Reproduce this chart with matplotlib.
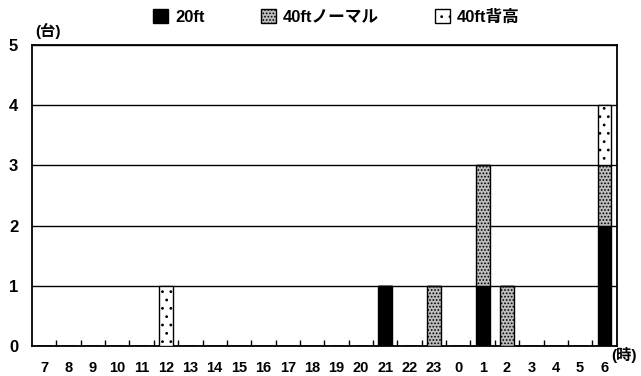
import numpy as np
import matplotlib
matplotlib.use("Agg")
import matplotlib.pyplot as plt
from matplotlib.patches import Patch

plt.rcParams['font.family'] = ['Liberation Sans', 'Noto Sans CJK JP', 'DejaVu Sans']
plt.rcParams['hatch.linewidth'] = 0.8

# hours from 7 to 6 next morning
hours = ['7', '8', '9', '10', '11', '12', '13', '14', '15', '16', '17', '18', '19', '20',
         '21', '22', '23', '0', '1', '2', '3', '4', '5', '6']
ft20 = [0, 0, 0, 0, 0, 0, 0, 0, 0, 0, 0, 0, 0, 0, 1, 0, 0, 0, 1, 0, 0, 0, 0, 2]
ft40_normal = [0, 0, 0, 0, 0, 0, 0, 0, 0, 0, 0, 0, 0, 0, 0, 0, 1, 0, 2, 1, 0, 0, 0, 1]
ft40_high = [0, 0, 0, 0, 0, 1, 0, 0, 0, 0, 0, 0, 0, 0, 0, 0, 0, 0, 0, 0, 0, 0, 0, 1]
series_names = ['20ft', '40ftノーマル', '40ft背高']

fig = plt.figure(figsize=(6.41, 3.76), dpi=100)
ax = fig.add_axes([0.05, 0.08, 0.912, 0.80])

x = np.arange(len(hours))
w = 0.57
b1 = np.array(ft20)
b2 = b1 + np.array(ft40_normal)

ax.bar(x, ft20, w, color='black', edgecolor='black', linewidth=1, zorder=3)
ax.bar(x, ft40_normal, w, bottom=b1, color='#bdbdbd', edgecolor='black',
       hatch='.....', linewidth=1, zorder=3)
ax.bar(x, ft40_high, w, bottom=b2, color='white', edgecolor='black',
       hatch='..', linewidth=1, zorder=3)

ax.set_xlim(-0.5, len(hours) - 0.5)
ax.set_ylim(0, 5)
ax.set_yticks(range(6))
ax.set_yticklabels([str(i) for i in range(6)], fontsize=12, fontweight='bold')
ax.yaxis.grid(True, color='black', linewidth=1)
ax.set_axisbelow(True)
ax.tick_params(axis='y', length=0, pad=10)

ax.set_xticks(x)
ax.set_xticklabels(hours, fontsize=10.5, fontweight='bold')
ax.tick_params(axis='x', length=0, pad=11)
ax.set_xticks(np.arange(0.5, len(hours) - 1, 1), minor=True)
ax.tick_params(axis='x', which='minor', direction='in', length=4, width=1)

for s in ax.spines.values():
    s.set_linewidth(1.3)
    s.set_color('black')

fig.text(0.055, 0.905, '(台)', fontsize=11, fontweight='bold')
fig.text(0.954, 0.042, '(時)', fontsize=11, fontweight='bold')

handles = [Patch(facecolor='black', edgecolor='black'),
           Patch(facecolor='#bdbdbd', edgecolor='black', hatch='.....'),
           Patch(facecolor='white', edgecolor='black', hatch='..')]
fig.legend(handles, series_names, loc='upper center', bbox_to_anchor=(0.525, 1.015),
           ncol=3, frameon=False, prop={'weight': 'bold', 'size': 12},
           handlelength=0.9, handleheight=0.9, handletextpad=0.4, columnspacing=3.4)

fig.savefig('out.png', dpi=100)
